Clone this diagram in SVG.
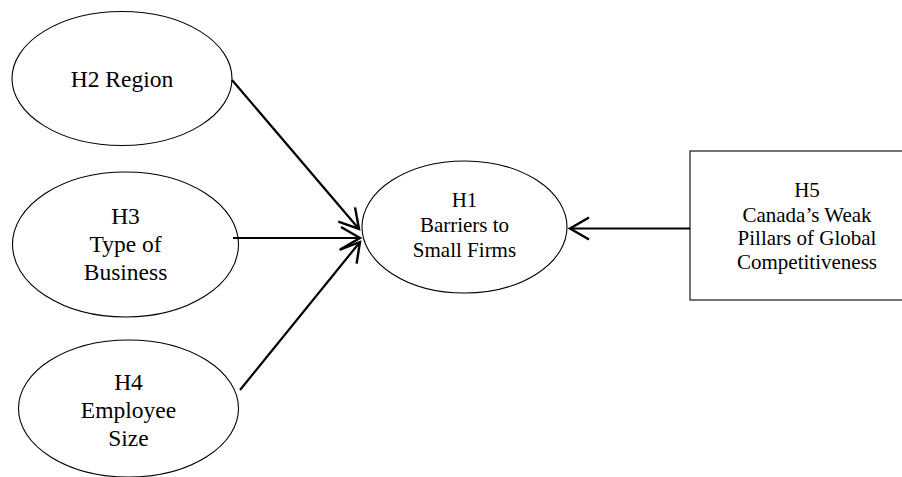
<svg xmlns="http://www.w3.org/2000/svg" width="902" height="477" viewBox="0 0 902 477">
  <style>
    .shape { fill: #fff; stroke: #000; stroke-width: 1.1; }
    .lbl { font-family: "Liberation Serif", "Times New Roman", serif; fill: #000; text-anchor: middle; }
    .big { font-size: 23.5px; }
    .mid { font-size: 21px; }
    .link { fill: none; stroke: #000; stroke-width: 2.2; marker-end: url(#open); }
  </style>
  <defs>
    <marker id="open" markerUnits="userSpaceOnUse" markerWidth="30" markerHeight="30" viewBox="-24 -15 30 30" refX="0" refY="0" orient="auto" overflow="visible">
      <path d="M-19,-11 L0,0 L-19,11" fill="none" stroke="#000" stroke-width="2.4" stroke-linejoin="miter"/>
    </marker>
  </defs>

  <rect width="902" height="477" fill="#fff"/>

  <!-- H2 -->
  <g id="h2">
    <ellipse class="shape" cx="122" cy="78.5" rx="110" ry="67"/>
    <text class="lbl big" x="122" y="87">H2 Region</text>
  </g>

  <!-- H3 -->
  <g id="h3">
    <ellipse class="shape" cx="125.5" cy="244.5" rx="113" ry="72.5"/>
    <text class="lbl big" x="125.5" y="224">H3</text>
    <text class="lbl big" x="125.5" y="252">Type of</text>
    <text class="lbl big" x="125.5" y="280">Business</text>
  </g>

  <!-- H4 -->
  <g id="h4">
    <ellipse class="shape" cx="128.5" cy="408.5" rx="110" ry="68.5"/>
    <text class="lbl big" x="128.5" y="390">H4</text>
    <text class="lbl big" x="128.5" y="418">Employee</text>
    <text class="lbl big" x="128.5" y="446">Size</text>
  </g>

  <!-- H1 -->
  <g id="h1">
    <ellipse class="shape" cx="464.5" cy="227" rx="102.5" ry="66"/>
    <text class="lbl mid" x="464.5" y="207">H1</text>
    <text class="lbl mid" x="464.5" y="232">Barriers to</text>
    <text class="lbl mid" x="464.5" y="257">Small Firms</text>
  </g>

  <!-- H5 -->
  <g id="h5">
    <rect class="shape" x="690" y="151" width="240" height="149"/>
    <text class="lbl mid" x="807" y="197">H5</text>
    <text class="lbl mid" x="807" y="221.5">Canada’s Weak</text>
    <text class="lbl mid" x="807" y="245">Pillars of Global</text>
    <text class="lbl mid" x="807" y="269">Competitiveness</text>
  </g>

  <!-- connectors -->
  <g id="links">
    <line class="link" x1="232" y1="80" x2="359" y2="229"/>
    <line class="link" x1="233" y1="238" x2="360" y2="238"/>
    <line class="link" x1="240" y1="390" x2="360" y2="242"/>
    <line class="link" x1="690" y1="228.5" x2="570" y2="228.5"/>
  </g>
</svg>
